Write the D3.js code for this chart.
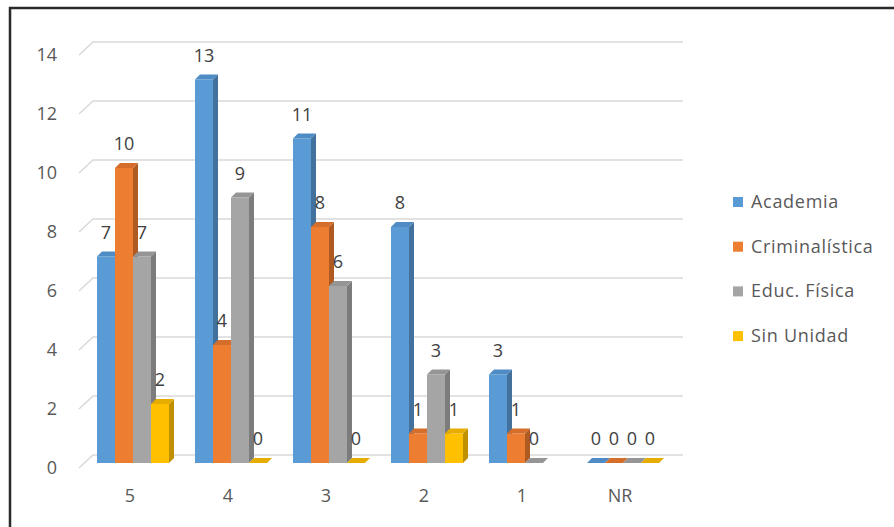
<!DOCTYPE html>
<html><head><meta charset="utf-8">
<script src="https://cdn.jsdelivr.net/npm/d3@7/dist/d3.min.js"></script>
<style>body{margin:0;background:#fff}svg{display:block}</style>
</head><body><svg id="c" width="894" height="527"></svg>
<script>
const categories = ["5","4","3","2","1","NR"];
const seriesNames = ["Academia","Criminalística","Educ. Física","Sin Unidad"];
const academia = [7,13,11,8,3,0];
const criminalistica = [10,4,8,1,1,0];
const educFisica = [7,9,6,3,0,0];
const sinUnidad = [2,0,0,1,null,0];
const yTicks = [0,2,4,6,8,10,12,14];
const seriesValues = [academia, criminalistica, educFisica, sinUnidad];
const colors = ["#5B9BD5","#ED7D31","#A5A5A5","#FFC000"];
const sideColors = ["#41719C","#AE5A21","#7C7C7C","#BF9000"];
const topColors = ["#4F8BC4","#D46E2A","#959595","#E6AD00"];

const svg = d3.select("#c");
const font = "'Open Sans', sans-serif";
const y = d3.scaleLinear().domain([0,14]).range([463,50]);
const x0 = d3.scaleBand().domain(categories).range([84,672]).paddingInner(26/98).paddingOuter(13/98);
const x1 = d3.scaleBand().domain(seriesNames).range([0, x0.bandwidth()]);
const dx = 5, dy = 5;

// frame
svg.append("path").attr("d","M10,527 L10,8 L894,8").attr("fill","none").attr("stroke","#2a2a2a").attr("stroke-width",2.5);

// gridlines (3D back wall + floor edge)
const g = svg.append("g");
yTicks.forEach(v=>{
  g.append("path").attr("d",`M79,${y(v)+5} L93,${y(v)-8} L683,${y(v)-8}`)
   .attr("fill","none").attr("stroke","#d9d9d9").attr("stroke-width",1.5);
});

// y axis labels
const yAxis = d3.axisLeft(y).tickValues(yTicks).tickSize(0).tickPadding(0);
const ya = svg.append("g").attr("transform","translate(57,0)").call(yAxis);
ya.select(".domain").remove();
ya.selectAll("text").attr("font-family",font).attr("font-size",18).attr("fill","#595959")
  .attr("dy",null).attr("y",6).attr("x",0).attr("text-anchor","end");
ya.selectAll(".tick").attr("transform",d=>`translate(0,${y(d)+5})`);

// x axis labels
const xAxis = d3.axisBottom(x0).tickSize(0).tickPadding(0);
const xa = svg.append("g").attr("transform","translate(-3,502)").call(xAxis);
xa.select(".domain").remove();
xa.selectAll("text").attr("font-family",font).attr("font-size",18).attr("fill","#595959").attr("dy",null).attr("y",0);

// bars
categories.forEach((c,ci)=>{
  seriesValues.forEach((vals,si)=>{
    const v = vals[ci];
    if (v === null) return;
    const bx = x0(c) + x1(seriesNames[si]);
    const bw = x1.bandwidth();
    const top = y(v), base = y(0);
    const grp = svg.append("g");
    grp.append("path").attr("d",`M${bx+bw},${top} L${bx+bw+dx},${top-dy} L${bx+bw+dx},${base-dy} L${bx+bw},${base}Z`).attr("fill",sideColors[si]);
    grp.append("rect").attr("x",bx).attr("y",top).attr("width",bw).attr("height",Math.max(0,base-top)).attr("fill",colors[si]);
    grp.append("path").attr("d",`M${bx},${top} L${bx+dx},${top-dy} L${bx+bw+dx},${top-dy} L${bx+bw},${top}Z`).attr("fill",topColors[si]);
  });
});

// data labels
categories.forEach((c,ci)=>{
  seriesValues.forEach((vals,si)=>{
    const v = vals[ci];
    if (v === null) return;
    const bx = x0(c) + x1(seriesNames[si]) + x1.bandwidth()/2;
    svg.append("text").attr("x",bx).attr("y",y(v)-18).attr("text-anchor","middle")
      .attr("font-family",font).attr("font-size",18).attr("fill","#404040").text(v);
  });
});

// legend
const lg = svg.append("g");
seriesNames.forEach((n,i)=>{
  const ly = 202 + i*44.7;
  lg.append("rect").attr("x",733).attr("y",ly-5).attr("width",10).attr("height",10).attr("fill",colors[i]);
  lg.append("text").attr("x",751).attr("y",ly+6).attr("font-family",font).attr("font-size",18)
    .attr("letter-spacing",0.7).attr("fill","#595959").text(n);
});
</script></body></html>
